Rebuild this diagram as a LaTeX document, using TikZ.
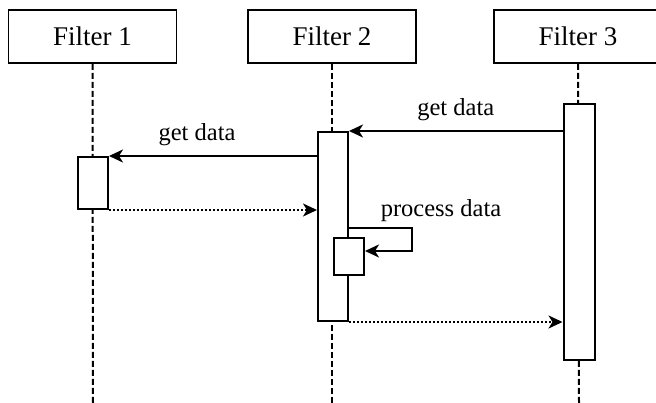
\documentclass[tikz,border=0pt]{standalone}
\usepackage{fontspec}
\setmainfont{Liberation Serif}
\usetikzlibrary{arrows.meta}
\begin{document}
\begin{tikzpicture}[x=1pt,y=-1pt,
  header/.style={draw,line width=1.6pt,minimum width=168pt,minimum height=53pt,inner sep=0pt,font=\fontsize{27}{32}\selectfont},
  actbox/.style={draw,line width=2pt,fill=white},
  lifeline/.style={line width=2pt,dash pattern=on 6pt off 3pt},
  msg/.style={line width=2pt,-{Stealth[length=14pt,width=13pt,inset=4pt]}},
  ret/.style={line width=2pt,dotted,-{Stealth[length=14pt,width=13pt,inset=4pt]}},
  lbl/.style={font=\fontsize{24.5}{29}\selectfont,inner sep=0pt}]
\useasboundingbox (0,0) rectangle (656,403);
% headers
\node[header] (f1) at (92.5,36.5) {Filter 1};
\node[header] (f2) at (332,36.5) {Filter 2};
\node[header] (f3) at (578,36.5) {Filter 3};
% lifelines
\coordinate (e1) at (93,403);
\coordinate (e2) at (332,403);
\coordinate (e3) at (579,403);
\draw[lifeline] (f1.south) -- (e1);
\draw[lifeline] (f2.south) -- (e2);
\draw[lifeline] (f3.south) -- (e3);
% activations
\node[actbox,minimum width=30pt,minimum height=52pt,inner sep=0pt] (a1) at (93,183) {};
\node[actbox,minimum width=30pt,minimum height=189pt,inner sep=0pt] (a2) at (333,226.5) {};
\node[actbox,minimum width=31pt,minimum height=256pt,inner sep=0pt] (a3) at (579,232) {};
\node[actbox,minimum width=30pt,minimum height=37pt,inner sep=0pt] (a4) at (349,256.5) {};
% messages
\draw[msg] (a3.west |- 0,131) -- node[lbl,above=9pt] {get data} (a2.east |- 0,131);
\draw[msg] (a2.west |- 0,156) -- node[lbl,above=9pt,xshift=-16pt] {get data} (a1.east |- 0,156);
\draw[ret] (a1.south east) -- (a2.west |- a1.south east);
\coordinate (p1) at (412,228);
\draw[msg] (a2.east |- p1) -- (p1) -- (412,251) -- (a4.east |- 0,251);
\node[lbl] (pd) at (441,211) {process data};
\draw[ret] (a2.south east) -- (a3.west |- a2.south east);
\end{tikzpicture}
\end{document}
